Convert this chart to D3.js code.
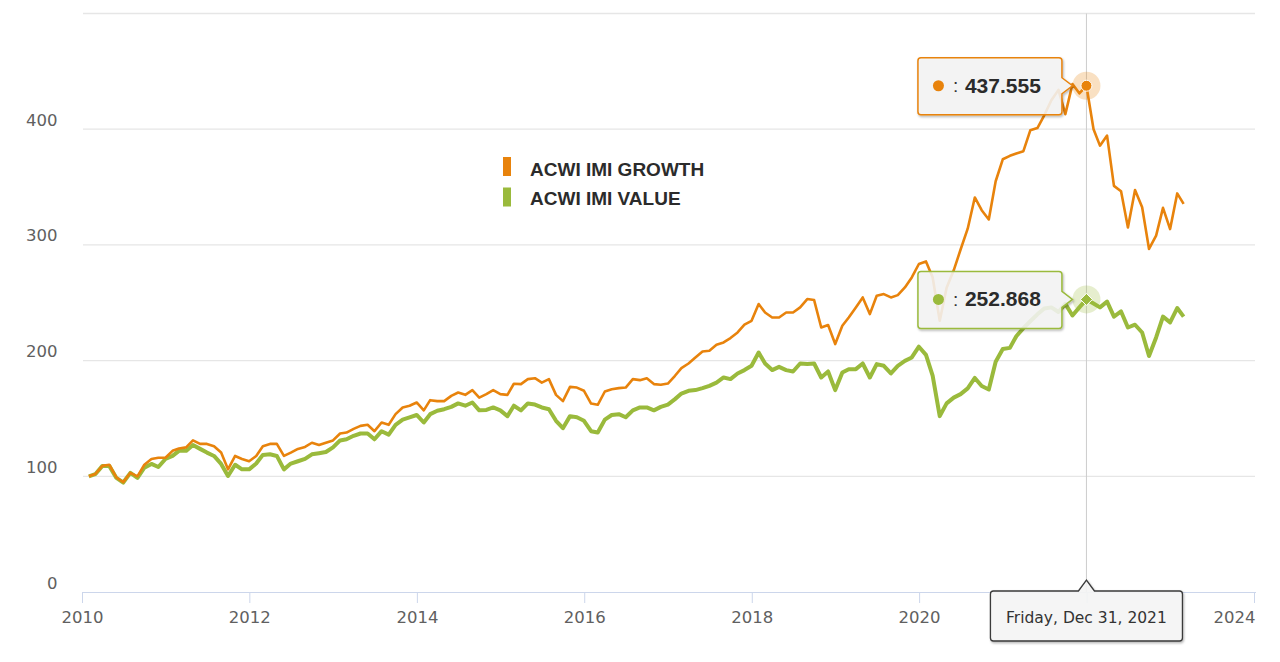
<!DOCTYPE html>
<html>
<head>
<meta charset="utf-8">
<script src="https://cdn.jsdelivr.net/npm/d3@7"></script>
<style>
  body { margin: 0; background: #fff; }
  svg { display: block; }
</style>
</head>
<body>
<svg id="chart" width="1280" height="662"></svg>
<script>
// monthly index levels, month-end closes, Jan 2010 .. Feb 2023
const startYear = 2010;

const growthValues = [
  100, 102, 109, 110, 99, 95, 103, 100, 110, 115, 116, 116,
  122, 124, 125, 131, 128, 128, 126, 120.5, 106, 117.6, 115, 113,
  117.6, 126, 128, 128, 117.6, 120.5, 123.7, 125.4, 129, 127, 129, 131,
  137, 137.8, 141, 143.6, 144.5, 139, 146.5, 144.5, 153.7, 159.5, 161, 163.8,
  157, 165.8, 165, 165, 169.5, 172.4, 170.4, 174.5, 168, 171, 174.5, 171,
  170.4, 180, 179.7, 184, 184.8, 181, 184, 170.4, 165, 177.3, 176.7, 173.9,
  162.9, 161.8, 173.3, 175.3, 176.2, 176.7, 184, 183.1, 184.8, 179.7, 179.1, 180.2,
  186.9, 193.5, 197.5, 202.7, 207.9, 208.5, 213.7, 215.7, 219.5, 224.3, 231, 234.4,
  248.9, 241.6, 237.3, 237.3, 241.6, 241.6, 246, 253.2, 252.3, 228.6, 230.7, 214.3,
  230.1, 237.3, 246, 254.6, 240.2, 256, 257.5, 254.6, 256.6, 263.2, 271.9, 283.5,
  285.7, 272, 234.4, 263, 278, 296, 314, 341, 330, 322, 355, 374,
  377, 379, 381, 399, 401, 412, 425, 434, 413, 439, 431, 437.555,
  400, 385.8, 394.5, 351, 346.3, 315, 347.5, 332.5, 296.5, 308, 332, 313.7,
  344.5, 335.4
];

const valueValues = [
  100, 101.8, 109, 109, 98.6, 94.6, 103, 98.6, 107.5, 110.7, 108, 115,
  117.6, 122, 122, 127, 123.7, 120.5, 117.6, 110.7, 100.3, 110, 106, 106,
  111, 118.5, 119, 117.6, 106, 111, 113, 115, 119, 120, 121, 125,
  131, 132, 135, 137, 137, 132, 139, 136, 144.5, 149, 151, 153,
  146.5, 153.7, 156.6, 158, 160, 163, 161, 163.8, 157, 157.4, 159.5, 157,
  152, 161, 157, 163, 162, 159.5, 158, 148, 141.6, 152, 151, 148,
  139, 137.8, 149, 153, 153.7, 151, 157, 159.5, 159.5, 157, 160, 162,
  166.7, 171.5, 173.9, 174.5, 176.2, 178.2, 181, 185.4, 184, 188.9, 191.8, 195.5,
  207, 197.5, 191.8, 194.6, 191.8, 190.6, 197.5, 197, 197.5, 185.4, 190.6, 174.5,
  189.7, 192.6, 192.6, 197.5, 185.4, 197, 195.5, 188.9, 195.5, 199.8, 202.7, 212,
  205, 187, 152, 163, 168, 171, 176, 185, 178, 175, 199, 210,
  211, 221, 228, 234, 240, 245, 246, 242, 249, 239, 246, 252.868,
  249.4, 246, 251, 238, 242.5, 228.6, 231, 224.3, 204, 220, 238, 233,
  245.4, 238
];

const seriesNames = ["ACWI IMI GROWTH", "ACWI IMI VALUE"];
const seriesColors = ["#e8830c", "#9aba3c"];
const xTickYears = [2010, 2012, 2014, 2016, 2018, 2020, 2022, 2024];
const yTicks = [0, 100, 200, 300, 400, 500];
const yLabelTicks = [0, 100, 200, 300, 400];
const hoverIndex = 143; // Dec 2021

// month-end dates for each point
const dates = growthValues.map((d, i) => new Date(startYear, i + 1, 0));

const svg = d3.select("#chart");
const font = "'DejaVu Sans', Verdana, sans-serif";
const boldFont = "'Liberation Sans', Arial, sans-serif";

const x = d3.scaleTime()
    .domain([new Date(2010, 0, 1), new Date(2024, 0, 1)])
    .range([82, 1254]);

const y = d3.scaleLinear()
    .domain([0, 500])
    .range([592, 13.5]);

const defs = svg.append("defs");
const shadow = defs.append("filter").attr("id", "shadow")
    .attr("x", "-10%").attr("y", "-10%").attr("width", "130%").attr("height", "140%");
shadow.append("feDropShadow")
    .attr("dx", 1).attr("dy", 1.5).attr("stdDeviation", 1.2)
    .attr("flood-color", "#000").attr("flood-opacity", 0.3);

const hx = x(dates[hoverIndex]);

// grid lines
svg.append("g").selectAll("line")
    .data(yTicks.filter(d => d > 0))
    .join("line")
    .attr("x1", 83).attr("x2", 1255)
    .attr("y1", d => y(d)).attr("y2", d => y(d))
    .attr("stroke", "#e6e6e6").attr("stroke-width", 1.3);

// y labels
const yAxis = svg.append("g")
    .attr("transform", "translate(67,0)")
    .call(d3.axisLeft(y).tickValues(yLabelTicks).tickSize(0).tickPadding(9.5));
yAxis.select(".domain").remove();
yAxis.selectAll("text")
    .attr("dy", -4)
    .attr("fill", "#606060")
    .style("font-family", font)
    .style("font-size", "16.5px");

// x axis; the label sitting under the date box is covered by it
const xAxis = svg.append("g")
    .attr("transform", `translate(0,${y(0)})`)
    .call(d3.axisBottom(x)
        .tickValues(xTickYears.map(yr => new Date(yr, 0, 1)))
        .tickFormat(d => Math.abs(x(d) - hx) < 60 ? "" : d3.timeFormat("%Y")(d))
        .tickSize(11).tickSizeOuter(0).tickPadding(8));
xAxis.select(".domain")
    .attr("d", `M${x.range()[0]},0.5H${x.range()[1] + 2}`)
    .attr("stroke", "#ccd6eb");
xAxis.selectAll(".tick line").attr("stroke", "#ccd6eb");
xAxis.selectAll("text")
    .attr("fill", "#606060")
    .style("font-family", font)
    .style("font-size", "16.5px");
// last label is pushed inside the chart edge
xAxis.selectAll(".tick").filter(d => d.getFullYear() === 2024)
    .select("text").attr("dx", -20);

// crosshair
svg.append("line")
    .attr("x1", hx).attr("x2", hx)
    .attr("y1", y(500)).attr("y2", y(0))
    .attr("stroke", "#cccccc").attr("stroke-width", 1);

// lines
const line = d3.line()
    .x((d, i) => x(dates[i]))
    .y(d => y(d));

svg.append("path")
    .datum(valueValues)
    .attr("fill", "none")
    .attr("stroke", seriesColors[1])
    .attr("stroke-width", 4)
    .attr("stroke-linejoin", "round")
    .attr("d", line);

svg.append("path")
    .datum(growthValues)
    .attr("fill", "none")
    .attr("stroke", seriesColors[0])
    .attr("stroke-width", 2.6)
    .attr("stroke-linejoin", "round")
    .attr("d", line);

// hover markers
const gy = y(growthValues[hoverIndex]);
const vy = y(valueValues[hoverIndex]);

svg.append("circle").attr("cx", hx).attr("cy", gy).attr("r", 14)
    .attr("fill", seriesColors[0]).attr("fill-opacity", 0.25);
svg.append("circle").attr("cx", hx).attr("cy", gy).attr("r", 5.5)
    .attr("fill", seriesColors[0]).attr("stroke", "#fff").attr("stroke-width", 1);

svg.append("circle").attr("cx", hx).attr("cy", vy).attr("r", 14)
    .attr("fill", seriesColors[1]).attr("fill-opacity", 0.25);
svg.append("path")
    .attr("d", `M${hx},${vy - 6}L${hx + 6},${vy}L${hx},${vy + 6}L${hx - 6},${vy}Z`)
    .attr("fill", seriesColors[1]).attr("stroke", "#fff").attr("stroke-width", 1);

// legend
const legend = svg.append("g");
seriesNames.forEach((name, i) => {
    legend.append("rect")
        .attr("x", 503).attr("y", 157 + i * 30.5)
        .attr("width", 8).attr("height", 19)
        .attr("fill", seriesColors[i]);
    legend.append("text")
        .attr("x", 530).attr("y", 175.5 + i * 29)
        .attr("fill", "#2b2b2b")
        .style("font-family", boldFont)
        .style("font-weight", "bold")
        .style("font-size", "19px")
        .text(name);
});

// tooltips
function calloutRight(x0, y0, x1, y1, tx, ty) {
    const r = 3;
    return `M${x0 + r},${y0}H${x1 - r}Q${x1},${y0} ${x1},${y0 + r}` +
        `V${ty - 8}L${tx},${ty}L${x1},${ty + 8}` +
        `V${y1 - r}Q${x1},${y1} ${x1 - r},${y1}H${x0 + r}Q${x0},${y1} ${x0},${y1 - r}` +
        `V${y0 + r}Q${x0},${y0} ${x0 + r},${y0}Z`;
}

function calloutTop(x0, y0, x1, y1, tx, ty) {
    const r = 3;
    return `M${x0 + r},${y0}H${tx - 8}L${tx},${ty}L${tx + 8},${y0}H${x1 - r}` +
        `Q${x1},${y0} ${x1},${y0 + r}V${y1 - r}Q${x1},${y1} ${x1 - r},${y1}` +
        `H${x0 + r}Q${x0},${y1} ${x0},${y1 - r}V${y0 + r}Q${x0},${y0} ${x0 + r},${y0}Z`;
}

const fmtVal = d3.format(".3f");
[[growthValues, gy], [valueValues, vy]].forEach(([vals, py], i) => {
    const x1 = hx - 24.5, x0 = x1 - 144;
    const y0 = py - 28, y1 = py + 29;
    const g = svg.append("g");
    g.append("path")
        .attr("d", calloutRight(x0, y0, x1, y1, hx - 14, py))
        .attr("fill", "#f7f7f7").attr("fill-opacity", 0.85)
        .attr("stroke", seriesColors[i]).attr("stroke-width", 1.5)
        .attr("filter", "url(#shadow)");
    g.append("circle")
        .attr("cx", x0 + 20.5).attr("cy", py).attr("r", 5.5)
        .attr("fill", seriesColors[i]);
    g.append("text")
        .attr("x", x0 + 35).attr("y", py + 6.5)
        .attr("fill", "#333")
        .style("font-family", boldFont)
        .style("font-size", "19px")
        .text(":");
    g.append("text")
        .attr("x", x0 + 47).attr("y", py + 7)
        .attr("fill", "#2b2b2b")
        .style("font-family", boldFont)
        .style("font-weight", "bold")
        .style("font-size", "21px")
        .text(fmtVal(vals[hoverIndex]));
});

// date label under the crosshair
const dateBox = svg.append("g");
dateBox.append("path")
    .attr("d", calloutTop(hx - 96, y(0) - 1, hx + 96, y(0) + 49, hx, y(0) - 12))
    .attr("fill", "#f7f7f7").attr("fill-opacity", 0.9)
    .attr("stroke", "#3a3a3a").attr("stroke-width", 1.3)
    .attr("filter", "url(#shadow)");
dateBox.append("text")
    .attr("x", hx).attr("y", y(0) + 31)
    .attr("text-anchor", "middle")
    .attr("fill", "#333")
    .style("font-family", font)
    .style("font-size", "15.5px")
    .text(d3.timeFormat("%A, %b %d, %Y")(dates[hoverIndex]));
</script>
</body>
</html>
